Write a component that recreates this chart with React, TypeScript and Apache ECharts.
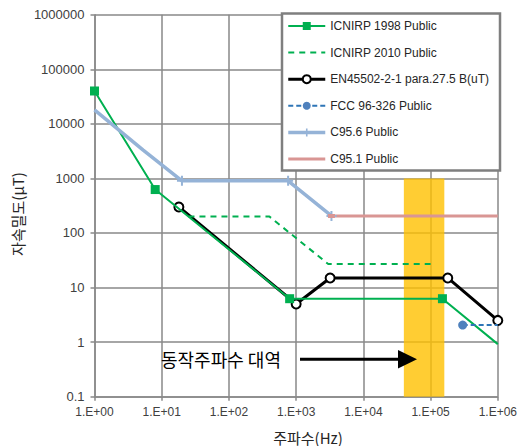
import React, { useEffect, useRef } from 'react';
import * as echarts from 'echarts';

// ---- data ----
const icnirp1998X = [1, 8, 800, 150000, 1000000];
const icnirp1998Y = [40000, 625, 6.25, 6.25, 0.92];
const icnirp2010X = [25, 400, 3000, 100000];
const icnirp2010Y = [200, 200, 27, 27];
const enX = [18, 1000, 3200, 180000, 1000000];
const enY = [300, 5, 15, 15, 2.5];
const fccX = [300000, 1000000];
const fccY = [2.05, 2.05];
const c956X = [1, 5.3, 20, 759, 3350];
const c956Y = [18100, 3300, 904, 904, 205];
const c951X = [3350, 1000000];
const c951Y = [205, 205];
const bandX = [40000, 160000];
const bandY = [0.1, 1000];

const seriesNames = [
  'ICNIRP 1998 Public',
  'ICNIRP 2010 Public',
  'EN45502-2-1 para.27.5 B(uT)',
  'FCC 96-326 Public',
  'C95.6 Public',
  'C95.1 Public',
];
const noMarkerInLegend = ['ICNIRP 2010 Public', 'C95.1 Public'];
const annotationText = '동작주파수 대역';
const xAxisName = '주파수(Hz)';
const yAxisName = '자속밀도(μT)';

const pts = (xs: number[], ys: number[]) => xs.map((x, i) => [x, ys[i]]);

const FONT = "'Liberation Sans', 'Noto Sans CJK KR', sans-serif";
const KFONT = "'Noto Sans CJK KR', sans-serif";
const GRID_COLOR = '#898989';
const PLUS = 'path://M4,0H6V4H10V6H6V10H4V6H0V4H4Z';

export default function App() {
  const ref = useRef<HTMLDivElement>(null);
  useEffect(() => {
    if (!ref.current) return;
    const chart = echarts.init(ref.current, undefined, { renderer: 'svg' });

    const icn98 = pts(icnirp1998X, icnirp1998Y).map((v, i, a) =>
      i === a.length - 1 ? { value: v, symbol: 'none' } : { value: v }
    );
    const fcc = pts(fccX, fccY).map((v, i) => (i === 0 ? { value: v } : { value: v, symbol: 'none' }));
    const c956 = pts(c956X, c956Y).map((v, i) => (i < 2 ? { value: v, symbol: 'none' } : { value: v }));
    const c951 = pts(c951X, c951Y).map((v, i) =>
      i === 0 ? { value: v, symbol: 'rect', symbolSize: [7, 4] } : { value: v, symbol: 'none' }
    );

    const axisCommon = {
      type: 'log',
      logBase: 10,
      axisLine: { show: true, lineStyle: { color: GRID_COLOR, width: 1.5 } },
      axisTick: { show: true, length: 4, lineStyle: { color: GRID_COLOR, width: 1.5 } },
      splitLine: { show: true, lineStyle: { color: GRID_COLOR, width: 1.5 } },
      minorTick: { show: false },
      minorSplitLine: { show: false },
    };

    chart.setOption({
      animation: false,
      textStyle: { fontFamily: FONT },
      grid: { left: 94.5, right: 21, top: 14.7, bottom: 49.3, containLabel: false },
      xAxis: {
        ...axisCommon,
        min: 1,
        max: 1000000,
        splitNumber: 6,
        axisLabel: {
          color: '#404040',
          fontSize: 12,
          fontFamily: FONT,
          margin: 9,
          formatter: (v: number) => {
            const e = Math.round(Math.log10(v));
            return '1.E+' + String(e).padStart(2, '0');
          },
        },
      },
      yAxis: {
        ...axisCommon,
        min: 0.1,
        max: 1000000,
        splitNumber: 7,
        axisLabel: {
          color: '#404040',
          fontSize: 13,
          fontFamily: FONT,
          margin: 10,
          formatter: (v: number) => String(Number(v.toPrecision(6))),
        },
      },
      legend: {
        data: seriesNames.map((n) =>
          noMarkerInLegend.includes(n)
            ? { name: n, itemStyle: { opacity: 0, color: 'transparent', borderColor: 'transparent' } }
            : { name: n }
        ),
        orient: 'vertical',
        left: 286.5,
        top: 19,
        itemWidth: 37,
        itemHeight: 10,
        itemGap: 12.6,
        padding: 0,
        z: 5,
        lineStyle: { width: 'inherit' },
        textStyle: { fontSize: 12, color: '#262626', lineHeight: 14, fontFamily: FONT },
      },
      graphic: [
        {
          type: 'rect',
          z: 1,
          shape: { x: 282, y: 13.5, width: 218, height: 157 },
          style: { fill: '#fff', stroke: '#7f7f7f', lineWidth: 2.5 },
        },
        {
          type: 'text',
          x: 17,
          y: 214,
          rotation: Math.PI / 2,
          z: 5,
          style: {
            text: yAxisName,
            fontSize: 15,
            fontFamily: KFONT,
            fill: '#262626',
            align: 'center',
            verticalAlign: 'middle',
          },
        },
        {
          type: 'text',
          x: 308,
          y: 437,
          z: 5,
          style: {
            text: xAxisName,
            fontSize: 15,
            fontFamily: KFONT,
            fill: '#262626',
            align: 'center',
            verticalAlign: 'middle',
          },
        },
        {
          type: 'text',
          x: 161,
          y: 359,
          z: 6,
          style: {
            text: annotationText,
            fontSize: 18,
            fontFamily: KFONT,
            fill: '#000',
            align: 'left',
            verticalAlign: 'middle',
          },
        },
        {
          type: 'line',
          z: 6,
          shape: { x1: 300, y1: 359.3, x2: 402, y2: 359.3 },
          style: { stroke: '#000', lineWidth: 3 },
        },
        {
          type: 'polygon',
          z: 6,
          shape: { points: [[398, 350], [417, 359.3], [398, 368.6]] },
          style: { fill: '#000' },
        },
      ],
      series: [
        {
          name: seriesNames[0],
          type: 'line',
          data: icn98,
          symbol: 'rect',
          symbolSize: 9,
          lineStyle: { color: '#00B050', width: 2 },
          itemStyle: { color: '#00B050' },
        },
        {
          name: seriesNames[1],
          type: 'line',
          data: pts(icnirp2010X, icnirp2010Y),
          symbol: 'none',
          lineStyle: { color: '#00B050', width: 2, type: [6, 5] },
          itemStyle: { color: '#00B050' },
        },
        {
          name: seriesNames[2],
          type: 'line',
          data: pts(enX, enY),
          symbol: 'emptyCircle',
          symbolSize: 9,
          lineStyle: { color: '#000', width: 3 },
          itemStyle: { color: '#000', borderColor: '#000', borderWidth: 1.2 },
          z: 2,
        },
        {
          name: seriesNames[3],
          type: 'line',
          data: fcc,
          symbol: 'circle',
          symbolSize: 9,
          lineStyle: { color: '#2E75B6', width: 2, type: [5, 3] },
          itemStyle: { color: '#4F81BD' },
        },
        {
          name: seriesNames[4],
          type: 'line',
          data: c956,
          symbol: PLUS,
          symbolSize: 10,
          lineStyle: { color: '#95B3D7', width: 3.5 },
          itemStyle: { color: '#95B3D7' },
        },
        {
          name: seriesNames[5],
          type: 'line',
          data: c951,
          symbol: 'none',
          lineStyle: { color: '#D99694', width: 3 },
          itemStyle: { color: '#D99694' },
        },
        {
          name: 'band',
          type: 'line',
          data: [],
          z: 3,
          silent: true,
          markArea: {
            silent: true,
            itemStyle: { color: 'rgba(255,192,0,0.8)' },
            data: [[{ xAxis: bandX[0], yAxis: bandY[0] }, { xAxis: bandX[1], yAxis: bandY[1] }]],
          },
        },
      ],
    });
    return () => chart.dispose();
  }, []);
  return (
    <div
      ref={ref}
      style={{ position: 'fixed', left: 0, top: 0, width: 520, height: 446, background: '#fff' }}
    />
  );
}
